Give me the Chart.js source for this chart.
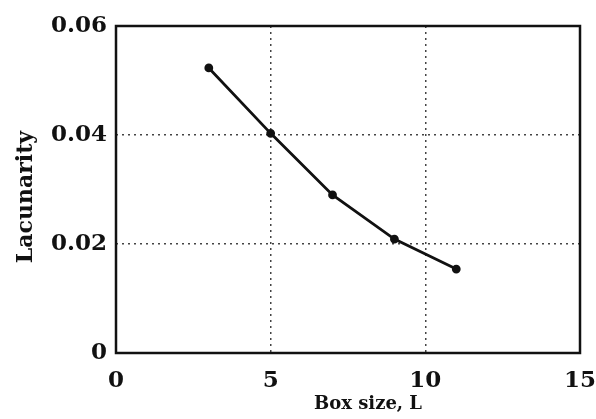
<!DOCTYPE html>
<html>
<head>
<meta charset="utf-8">
<script src="https://cdn.jsdelivr.net/npm/chart.js@4/dist/chart.umd.min.js"></script>
<style>
  html, body { margin: 0; padding: 0; background: #fff; }
  #wrap { width: 596px; height: 419px; }
</style>
</head>
<body>
<div id="wrap"><canvas id="chart" width="596" height="419"></canvas></div>
<script>
/* ---------- Data ---------- */
const boxSizes = [3, 5, 7, 9, 11];
const lacunarity = [0.0523, 0.0403, 0.0290, 0.0209, 0.0154];
const xTicks = [0, 5, 10, 15];
const yTicks = [0, 0.02, 0.04, 0.06];
const yTickLabels = ["0", "0.02", "0.04", "0.06"];

const serif = "'DejaVu Serif', 'Liberation Serif', serif";

/* ---------- Frame + axis titles ---------- */
const framePlugin = {
    id: "frame",
    afterDraw(chart) {
        const { ctx, chartArea: a } = chart;
        ctx.save();
        ctx.strokeStyle = "#111";
        ctx.lineWidth = 2.5;
        ctx.strokeRect(a.left, a.top, a.right - a.left, a.bottom - a.top);

        ctx.fillStyle = "#111";
        ctx.textAlign = "center";
        ctx.textBaseline = "middle";
        ctx.font = "bold 18px " + serif;
        ctx.fillText("Box size, L", 368, 404);

        ctx.font = "bold 22px " + serif;
        ctx.translate(26, 197);
        ctx.rotate(-Math.PI / 2);
        ctx.fillText("Lacunarity", 0, 0);
        ctx.restore();
    }
};

function inner(min, max) {
    return ctx => {
        const v = ctx.tick ? ctx.tick.value : null;
        return (v === min || v === max) ? "rgba(0,0,0,0)" : "#444";
    };
}

new Chart(document.getElementById("chart"), {
    type: "line",
    data: {
        datasets: [{
            data: boxSizes.map((x, i) => ({ x, y: lacunarity[i] })),
            borderColor: "#111",
            backgroundColor: "#111",
            borderWidth: 2.8,
            pointRadius: 3,
            pointHoverRadius: 3,
            tension: 0
        }]
    },
    options: {
        responsive: false,
        animation: false,
        layout: { padding: { left: 0, top: 26, right: 16, bottom: 0 } },
        plugins: { legend: { display: false }, tooltip: { enabled: false } },
        scales: {
            x: {
                type: "linear",
                min: 0, max: 15,
                afterBuildTicks: s => { s.ticks = xTicks.map(v => ({ value: v })); },
                afterFit: s => { s.height = 66; s.paddingRight = 0; s.paddingLeft = 0; },
                grid: {
                    color: inner(0, 15),
                    lineWidth: 1.5,
                    drawTicks: false
                },
                border: { display: false },
                ticks: {
                    color: "#111",
                    padding: 14,
                    font: { family: serif, size: 23, weight: "bold" }
                }
            },
            y: {
                min: 0, max: 0.06,
                afterBuildTicks: s => { s.ticks = yTicks.map(v => ({ value: v })); },
                afterFit: s => { s.width = 116; s.paddingTop = 0; s.paddingBottom = 0; },
                grid: {
                    color: inner(0, 0.06),
                    lineWidth: 1.5,
                    drawTicks: false
                },
                border: { display: false },
                ticks: {
                    color: "#111",
                    padding: 9,
                    font: { family: serif, size: 23, weight: "bold" },
                    callback: v => yTickLabels[yTicks.indexOf(v)] ?? ""
                }
            }
        }
    },
    plugins: [framePlugin]
});

// dotted grid lines
const c = Chart.getChart("chart");
c.options.scales.x.border.dash = [2, 4];
c.options.scales.y.border.dash = [2, 4];
c.options.scales.x.grid.tickBorderDash = [2, 4];
c.options.scales.y.grid.tickBorderDash = [2, 4];
c.update();
</script>
</body>
</html>
